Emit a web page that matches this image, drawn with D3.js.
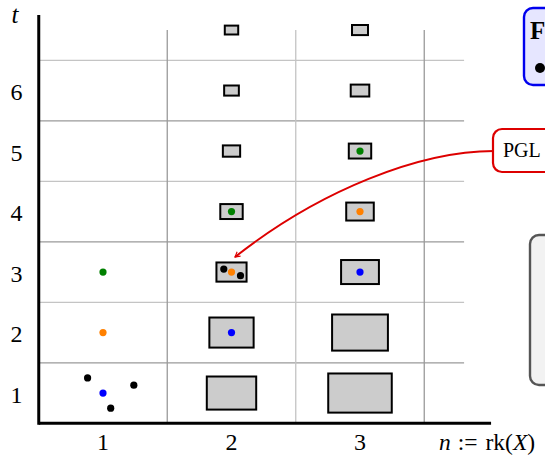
<!DOCTYPE html>
<html><head><meta charset="utf-8">
<script src="https://cdn.jsdelivr.net/npm/d3@7"></script>
<style>html,body{margin:0;padding:0;background:#fff;overflow:hidden}</style>
</head><body>
<svg id="c" width="545" height="456"></svg>
<script>
// ---- data ----
const nCategories = [1, 2, 3];
const tTicks = [1, 2, 3, 4, 5, 6];
const tRows = [1, 2, 3, 4, 5, 6, 7];
// box sizes (data units: width in n, height in t), per t = 1..7
const boxCol2W = [0.40, 0.36, 0.25, 0.19, 0.15, 0.13, 0.12];
const boxCol2H = [0.58, 0.53, 0.35, 0.28, 0.22, 0.20, 0.18];
const boxCol3W = [0.51, 0.45, 0.31, 0.23, 0.19, 0.16, 0.14];
const boxCol3H = [0.68, 0.63, 0.43, 0.33, 0.28, 0.23, 0.20];
// points: n, t, colour class
const pointN = [0.88, 1.00, 1.24, 1.06, 1, 1, 1.94, 2.00, 2.07, 2, 2, 3, 3, 3];
const pointT = [1.25, 1.00, 1.13, 0.75, 2, 3, 3.05, 3.00, 2.94, 2, 4, 3, 4, 5];
const pointC = ["k","b","k","k","o","g","k","o","k","b","g","b","o","g"];
const yLabel = "t";

// ---- drawing ----
const svg = d3.select("#c");
const colors = {k:"#000000", b:"#0000ff", o:"#ff8000", g:"#008000"};
const x = d3.scaleLinear().domain([0.5, 3.5]).range([38.75, 424.25]);
const y = d3.scaleLinear().domain([0.5, 7.5]).range([423.3, -0.2]);
const pxW = x(1) - x(0), pxH = y(0) - y(1);

// grid
const hLines = tRows.slice(0, 6).map(t => t + 0.5);
svg.append("g").selectAll("line").data(hLines).join("line")
  .attr("x1", x(0.5)).attr("x2", x(3.81))
  .attr("y1", d => y(d)).attr("y2", d => y(d))
  .attr("stroke", (d, i) => i % 2 === 0 ? "#9a9a9a" : "#c4c4c4").attr("stroke-width", 1.3);
const vLines = nCategories.map(n => n + 0.5);
svg.append("g").selectAll("line").data(vLines).join("line")
  .attr("x1", d => x(d)).attr("x2", d => x(d))
  .attr("y1", y(7)).attr("y2", y(0.5))
  .attr("stroke", (d, i) => i % 2 === 0 ? "#9a9a9a" : "#c4c4c4").attr("stroke-width", 1.3);

// axes
svg.append("line").attr("x1", x(0.5)).attr("x2", x(4.02)).attr("y1", y(0.5)).attr("y2", y(0.5))
  .attr("stroke", "#000").attr("stroke-width", 3);
svg.append("line").attr("x1", x(0.5)).attr("x2", x(0.5)).attr("y1", y(0.5) + 1.5).attr("y2", y(7.25))
  .attr("stroke", "#000").attr("stroke-width", 3);

const font = "'Liberation Serif', 'Times New Roman', serif";
svg.append("g").selectAll("text").data(tTicks).join("text")
  .attr("x", 16.5).attr("y", d => y(d) + 9.5)
  .attr("text-anchor", "middle").attr("font-family", font).attr("font-size", 24)
  .text(d => d);
svg.append("g").selectAll("text").data(nCategories).join("text")
  .attr("x", d => x(d)).attr("y", 450)
  .attr("text-anchor", "middle").attr("font-family", font).attr("font-size", 24)
  .text(d => d);
svg.append("text").attr("x", 15).attr("y", 23).attr("text-anchor", "middle")
  .attr("font-family", font).attr("font-size", 25).attr("font-style", "italic").text(yLabel);
const xl = svg.append("text").attr("x", 439).attr("y", 450)
  .attr("font-family", font).attr("font-size", 23.5);
xl.append("tspan").attr("font-style", "italic").text("n");
xl.append("tspan").attr("dx", 7).text(":=");
xl.append("tspan").attr("dx", 8).text("rk(");
xl.append("tspan").attr("font-style", "italic").text("X");
xl.append("tspan").text(")");

// boxes
const boxes = [];
tRows.forEach((t, i) => {
  boxes.push({n: 2, t, w: boxCol2W[i], h: boxCol2H[i]});
  boxes.push({n: 3, t, w: boxCol3W[i], h: boxCol3H[i]});
});
const sw = 2;
svg.append("g").selectAll("rect").data(boxes).join("rect")
  .attr("x", d => x(d.n) - d.w * pxW / 2 + sw / 2)
  .attr("y", d => y(d.t) - d.h * pxH / 2 + sw / 2)
  .attr("width", d => d.w * pxW - sw)
  .attr("height", d => d.h * pxH - sw)
  .attr("fill", "#cccccc").attr("stroke", "#000").attr("stroke-width", sw);

// points
svg.append("g").selectAll("circle").data(pointN.map((n, i) => ({n, t: pointT[i], c: pointC[i]})))
  .join("circle")
  .attr("cx", d => x(d.n)).attr("cy", d => y(d.t)).attr("r", 3.6)
  .attr("fill", d => colors[d.c]);

// annotation arrow
svg.append("defs").append("marker").attr("id", "ah").attr("viewBox", "0 0 10 10")
  .attr("refX", 8).attr("refY", 5).attr("markerWidth", 7).attr("markerHeight", 7)
  .attr("orient", "auto").attr("markerUnits", "userSpaceOnUse")
  .append("path").attr("d", "M1,1 L8,5 L1,9").attr("fill", "none")
  .attr("stroke", "#dd0000").attr("stroke-width", 1.6);
svg.append("path").attr("d", "M494,151 C420,151 320,190 235,257")
  .attr("fill", "none").attr("stroke", "#dd0000").attr("stroke-width", 2)
  .attr("marker-end", "url(#ah)");

// PGL box
svg.append("rect").attr("x", 493).attr("y", 129).attr("width", 80).attr("height", 43).attr("rx", 9)
  .attr("fill", "#fff").attr("stroke", "#dd0000").attr("stroke-width", 2.2);
svg.append("text").attr("x", 503).attr("y", 157).attr("font-family", font).attr("font-size", 20).text("PGL");

// legend box (blue)
svg.append("rect").attr("x", 524).attr("y", 8).attr("width", 60).attr("height", 77).attr("rx", 9)
  .attr("fill", "#e6e6ff").attr("stroke", "#0000ee").attr("stroke-width", 2.4);
svg.append("text").attr("x", 530).attr("y", 39).attr("font-family", font).attr("font-size", 25)
  .attr("font-weight", "bold").text("F");
svg.append("circle").attr("cx", 540).attr("cy", 68).attr("r", 5).attr("fill", "#000");

// gray box
svg.append("rect").attr("x", 530).attr("y", 235).attr("width", 60).attr("height", 150).attr("rx", 9)
  .attr("fill", "#f2f2f2").attr("stroke", "#555").attr("stroke-width", 2.4);
</script>
</body></html>
